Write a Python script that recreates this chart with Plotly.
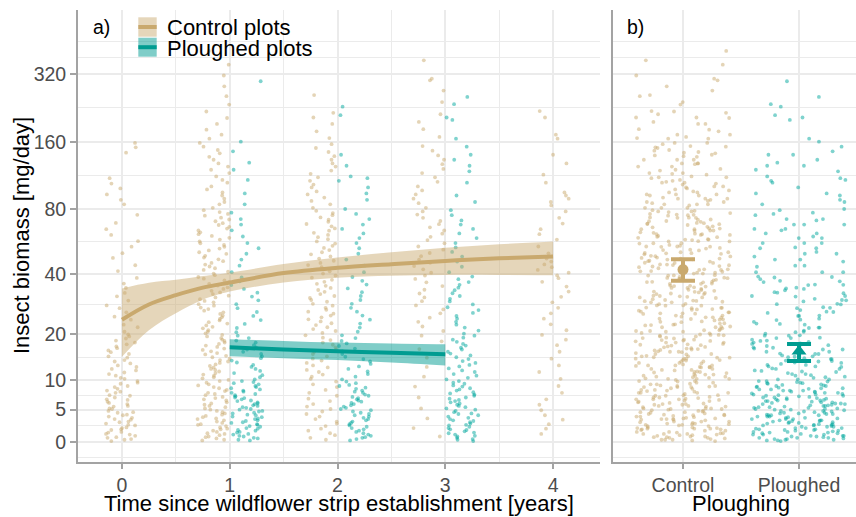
import numpy as np
import plotly.graph_objects as go

# ---------------- data (insect biomass, mg/day) ----------------
years_control = [0, 1, 2, 3, 4]
years_plough = [1, 2, 3]

control_y0 = [0.1, 0.3, 0.4, 0.6, 0.7, 0.9, 1.1, 1.2, 1.4, 1.5, 1.8, 1.9, 2.1, 2.2, 2.5, 2.6, 2.8, 3.0,
              3.1, 3.4, 3.5, 3.7, 3.9, 4.1, 4.2, 4.5, 4.6, 4.8, 5.1, 5.2, 5.5, 5.6, 5.9, 6.1, 6.3, 6.6,
              6.7, 7.0, 7.3, 7.4, 7.8, 8.0, 8.2, 8.5, 8.8, 9.0, 9.4, 9.6, 9.9, 10.3, 10.5, 10.9, 11.2,
              11.5, 11.9, 12.2, 12.6, 12.9, 13.3, 13.7, 14.0, 14.5, 14.8, 15.3, 15.7, 16.1, 16.6, 17.0,
              17.5, 17.9, 18.4, 18.9, 19.4, 19.9, 20.6, 21.8, 22.5, 23.9, 24.8, 26.1, 27.4, 28.3, 29.9,
              31.4, 32.6, 34.5, 36.2, 38.5, 41.5, 44.2, 47.8, 50.3, 53.9, 57.1, 61.0, 64.8, 69.2, 75.3,
              84, 88, 93, 99, 104, 110, 143, 151, 158]
control_y1 = [0.2, 0.3, 0.5, 0.7, 0.8, 1.0, 1.2, 1.3, 1.5, 1.7, 1.9, 2.0, 2.2, 2.4, 2.6, 2.7, 2.9, 3.1,
              3.3, 3.5, 3.6, 3.8, 4.0, 4.2, 4.4, 4.6, 4.8, 5.0, 5.2, 5.4, 5.6, 5.8, 6.0, 6.2, 6.5, 6.7,
              6.9, 7.1, 7.4, 7.6, 7.8, 8.1, 8.3, 8.6, 8.8, 9.1, 9.3, 9.6, 9.9, 10.1, 10.4, 10.6, 10.9,
              11.1, 11.4, 11.7, 12.0, 12.2, 12.5, 12.8, 13.1, 13.4, 13.7, 14.0, 14.3, 14.6, 14.9, 15.2,
              15.5, 15.9, 16.2, 16.5, 16.9, 17.2, 17.6, 17.9, 18.3, 18.6, 19.0, 19.4, 19.8, 20.2, 20.6,
              21.0, 21.5, 21.9, 22.3, 22.8, 23.2, 23.7, 24.1, 24.6, 25.1, 25.6, 26.1, 26.6, 27.1, 27.6,
              28.2, 28.7, 29.3, 29.8, 30.4, 31.0, 31.6, 32.2, 32.8, 33.4, 34.1, 34.7, 35.4, 36.1, 36.8,
              37.5, 38.2, 38.9, 39.7, 40.4, 41.2, 42.0, 42.8, 43.6, 44.5, 45.3, 46.2, 47.1, 48.0, 48.9,
              49.9, 50.8, 51.8, 52.8, 53.8, 54.9, 55.9, 57.0, 58.1, 59.2, 60.4, 61.5, 62.7, 63.9, 65.2,
              66.4, 67.7, 69.0, 70.4, 71.7, 73.1, 74.6, 76.0, 77.5, 79.0, 81, 84, 86, 89, 92, 95, 98,
              101, 105, 108, 112, 116, 120, 124, 128, 133, 137, 142, 147, 152, 158, 165, 172, 181, 192,
              204, 218, 234, 255, 282, 315, 352, 405]
control_y2 = [0.3, 0.6, 1.0, 1.3, 1.7, 2.0, 2.4, 2.8, 3.1, 3.5, 3.9, 4.3, 4.7, 5.1, 5.5, 5.9, 6.4, 6.8,
              7.3, 7.8, 8.3, 8.8, 9.3, 9.8, 10.3, 10.7, 11.1, 11.6, 12.0, 12.5, 12.9, 13.4, 13.9, 14.3,
              14.8, 15.3, 15.8, 16.3, 16.8, 17.4, 17.9, 18.5, 19.1, 19.7, 20.3, 20.8, 21.3, 21.8, 22.4,
              22.9, 23.4, 24.0, 24.6, 25.1, 25.7, 26.3, 26.9, 27.5, 28.2, 28.8, 29.5, 30.1, 30.8, 31.5,
              32.2, 33.0, 33.7, 34.5, 35.3, 36.1, 36.9, 37.7, 38.6, 39.5, 40.4, 41.4, 42.3, 43.3, 44.3,
              45.3, 46.4, 47.5, 48.6, 49.7, 50.8, 52.0, 53.2, 54.4, 55.7, 57.0, 58.3, 59.6, 61.0, 62.4,
              63.8, 65.3, 66.8, 68.4, 70.0, 71.6, 73.3, 75.0, 76.7, 78.5, 81, 84, 87, 90, 93, 96, 100,
              103, 107, 111, 115, 119, 124, 128, 133, 138, 144, 150, 156, 166, 178, 192, 205, 215, 258]
control_y3 = [0.8, 2.1, 3.6, 5.2, 7.0, 8.9, 10.7, 12.6, 14.5, 16.4, 18.2, 19.6, 20.8, 22.0, 23.3, 24.5,
              25.8, 27.0, 28.3, 29.7, 31.0, 32.4, 33.8, 35.2, 36.7, 38.1, 39.5, 40.8, 42.3, 43.8, 45.4,
              47.0, 48.7, 50.4, 52.2, 54.0, 55.9, 57.8, 59.8, 61.8, 63.9, 66.1, 68.3, 70.6, 73.0, 75.5,
              78.0, 81, 85, 89, 93, 97, 101, 106, 111, 116, 121, 127, 133, 139, 146, 153, 168, 182, 196,
              212, 240, 270, 300, 305, 368]
control_y4 = [1.2, 2.0, 2.7, 3.4, 4.1, 4.9, 5.8, 6.7, 7.8, 9.0, 10.3, 11.6, 12.9, 14.3, 15.8, 17.3, 18.6,
              19.8, 21.0, 22.6, 24.2, 25.8, 27.5, 29.3, 31.2, 33.1, 35.0, 36.9, 38.4, 39.6, 40.8, 42.0,
              43.3, 44.6, 46.0, 47.5, 50.2, 54.0, 58.1, 61.5, 64.8, 68.7, 73.0, 78.0, 83, 86, 89, 92,
              95, 105, 114, 128, 140, 165, 172, 205, 219]

plough_y1 = [0.2, 0.3, 0.5, 0.6, 0.8, 0.9, 1.1, 1.2, 1.4, 1.5, 1.7, 1.8, 2.0, 2.1, 2.3, 2.4, 2.6, 2.7,
             2.9, 3.0, 3.2, 3.3, 3.5, 3.6, 3.8, 3.9, 4.1, 4.2, 4.4, 4.5, 4.7, 4.8, 5.0, 5.1, 5.3, 5.4,
             5.6, 5.7, 5.9, 6.0, 6.2, 6.4, 6.5, 6.7, 6.9, 7.0, 7.2, 7.4, 7.6, 7.8, 8.0, 8.2, 8.4, 8.6,
             8.8, 9.0, 9.3, 9.5, 9.7, 9.9, 10.2, 10.6, 11.0, 11.4, 11.8, 12.2, 12.6, 13.0, 13.5, 13.9,
             14.4, 14.8, 15.3, 15.8, 16.3, 16.8, 17.3, 17.9, 18.4, 19.0, 19.6, 20.5, 21.6, 22.7, 23.8,
             25.0, 26.2, 27.4, 28.7, 30.0, 31.3, 32.7, 34.1, 35.6, 37.1, 38.7, 41, 44, 47, 50, 53, 56,
             60, 64, 68, 72, 77, 84, 94, 108, 120, 129, 145, 160, 297]
plough_y2 = [0.2, 0.4, 0.6, 0.7, 0.9, 1.1, 1.3, 1.5, 1.7, 1.9, 2.1, 2.3, 2.5, 2.7, 2.9, 3.1, 3.3, 3.5,
             3.7, 3.9, 4.1, 4.3, 4.5, 4.7, 4.9, 5.1, 5.3, 5.5, 5.7, 5.9, 6.1, 6.3, 6.5, 6.7, 6.9, 7.1,
             7.3, 7.5, 7.8, 8.0, 8.2, 8.5, 8.7, 9.0, 9.2, 9.5, 9.8, 10.2, 10.7, 11.2, 11.7, 12.2, 12.7,
             13.2, 13.7, 14.2, 14.7, 15.3, 15.9, 16.5, 17.1, 17.7, 18.3, 19.0, 19.7, 20.6, 21.7, 22.8,
             23.9, 25.1, 26.3, 27.5, 28.8, 30.1, 31.5, 32.9, 34.3, 35.8, 37.3, 38.9, 41, 44, 47, 50,
             53, 56, 59, 62, 65, 68, 72, 76, 80, 88, 94, 100, 107, 110, 112, 125, 140, 210, 229]
plough_y3 = [0.1, 0.3, 0.4, 0.6, 0.8, 0.9, 1.1, 1.3, 1.4, 1.6, 1.8, 1.9, 2.1, 2.3, 2.5, 2.6, 2.8, 3.0,
             3.2, 3.3, 3.5, 3.7, 3.9, 4.1, 4.3, 4.4, 4.6, 4.8, 5.0, 5.2, 5.4, 5.6, 5.8, 6.0, 6.2, 6.4,
             6.6, 6.8, 7.0, 7.3, 7.5, 7.7, 7.9, 8.2, 8.4, 8.6, 8.9, 9.1, 9.4, 9.6, 9.9, 10.2, 10.5,
             10.9, 11.2, 11.6, 11.9, 12.3, 12.7, 13.0, 13.4, 13.8, 14.2, 14.6, 15.0, 15.4, 15.8, 16.3,
             16.7, 17.2, 17.6, 18.1, 18.6, 19.1, 19.6, 20.1, 20.9, 21.7, 22.5, 23.3, 24.2, 25.0, 25.9,
             26.8, 27.7, 28.6, 29.6, 30.5, 31.5, 32.5, 33.6, 34.6, 35.7, 36.8, 38.0, 39.1, 41, 43.5,
             46, 48.5, 51, 53.5, 56, 59, 62, 65, 68, 71, 75, 79, 86, 92, 105, 118, 125, 133, 140, 152,
             165, 200, 205, 235, 253]

# fitted model (panel a)
fit_x_control = [0, 0.25, 0.5, 0.75, 1, 1.5, 2, 2.5, 3, 3.5, 4]
fit_control = [23.9, 28.6, 31.8, 34.6, 36.6, 40.6, 43.0, 44.7, 46.3, 47.6, 48.6]
fit_control_lo = [14.7, 21.0, 25.8, 30.2, 33.1, 36.6, 38.6, 39.4, 39.8, 39.8, 39.7]
fit_control_hi = [34.3, 36.5, 37.7, 39.3, 40.8, 44.8, 48.0, 50.8, 53.3, 55.3, 56.9]
fit_x_plough = [1, 1.5, 2, 2.5, 3]
fit_plough = [16.8, 16.3, 15.9, 15.55, 15.25]
fit_plough_lo = [14.8, 14.4, 14.0, 13.5, 12.9]
fit_plough_hi = [18.7, 18.3, 17.9, 17.7, 17.5]

# overall estimates (panel b)
est_groups = ["Control", "Ploughed"]
est_mean = [42.2, 15.9]
est_lo = [37.3, 13.8]
est_hi = [47.1, 17.6]

y_ticks = [0, 5, 10, 20, 40, 80, 160, 320]
x_ticks = [0, 1, 2, 3, 4]

# ---------------- styling ----------------
C_TAN = "#C9A96E"
C_TEAL = "#009C91"
TAN_BAND = "rgba(201,169,110,0.48)"
TEAL_BAND = "rgba(0,156,145,0.5)"
TAN_PT = "rgba(201,169,110,0.5)"
TEAL_PT = "rgba(0,168,158,0.5)"
GRID = "#EBEBEB"
AXIS = "#A3A3A3"
FONT = "Liberation Sans"
SIGMA2 = 15.0  # pseudo-log transform: asinh(y / (2*sigma)), sigma = 7.5
PT_SIZE = 3.8


def tr(v):
    return np.arcsinh(np.asarray(v, dtype=float) / SIGMA2)


def spread(n, half, seed=0):
    # deterministic jitter offsets from an integer hash of the point index
    h = (np.arange(n, dtype=np.uint64) + np.uint64(seed * 7919 + 1)) * np.uint64(2654435761)
    h &= np.uint64(0xFFFFFFFF)
    h ^= h >> np.uint64(15)
    h = (h * np.uint64(2246822519)) & np.uint64(0xFFFFFFFF)
    h ^= h >> np.uint64(13)
    h = (h * np.uint64(3266489917)) & np.uint64(0xFFFFFFFF)
    h ^= h >> np.uint64(16)
    u = h.astype(float) / 4294967296.0
    return (u - 0.5) * 2.0 * half


fig = go.Figure()

control_groups = [control_y0, control_y1, control_y2, control_y3, control_y4]
plough_groups = [plough_y1, plough_y2, plough_y3]
JIT = 0.15
DODGE = 0.15

for k, (yr, vals) in enumerate(zip(years_control, control_groups)):
    centre = yr - DODGE if yr in years_plough else yr
    fig.add_trace(go.Scatter(x=centre + spread(len(vals), JIT, 11 + k), y=tr(vals),
                             mode="markers", marker=dict(size=PT_SIZE, color=TAN_PT),
                             showlegend=False, hoverinfo="skip", xaxis="x", yaxis="y"))
for k, (yr, vals) in enumerate(zip(years_plough, plough_groups)):
    centre = yr + DODGE + 0.01
    fig.add_trace(go.Scatter(x=centre + spread(len(vals), JIT, 31 + k), y=tr(vals),
                             mode="markers", marker=dict(size=PT_SIZE, color=TEAL_PT),
                             showlegend=False, hoverinfo="skip", xaxis="x", yaxis="y"))

# ribbons + fitted lines
for xs, lo, hi, mid, band, col in [
        (fit_x_control, fit_control_lo, fit_control_hi, fit_control, TAN_BAND, C_TAN),
        (fit_x_plough, fit_plough_lo, fit_plough_hi, fit_plough, TEAL_BAND, C_TEAL)]:
    fig.add_trace(go.Scatter(x=xs, y=tr(lo), mode="lines", line=dict(width=0, shape="spline"),
                             showlegend=False, hoverinfo="skip", xaxis="x", yaxis="y"))
    fig.add_trace(go.Scatter(x=xs, y=tr(hi), mode="lines", line=dict(width=0, shape="spline"),
                             fill="tonexty", fillcolor=band,
                             showlegend=False, hoverinfo="skip", xaxis="x", yaxis="y"))
    fig.add_trace(go.Scatter(x=xs, y=tr(mid), mode="lines", line=dict(width=4, color=col, shape="spline"),
                             showlegend=False, hoverinfo="skip", xaxis="x", yaxis="y"))

# panel b: pooled observations
all_control = sum(control_groups, [])
all_plough = sum(plough_groups, [])
fig.add_trace(go.Scatter(x=1 + spread(len(all_control), 0.41, 57), y=tr(all_control),
                         mode="markers", marker=dict(size=PT_SIZE, color=TAN_PT),
                         showlegend=False, hoverinfo="skip", xaxis="x2", yaxis="y2"))
fig.add_trace(go.Scatter(x=2 + spread(len(all_plough), 0.41, 73), y=tr(all_plough),
                         mode="markers", marker=dict(size=PT_SIZE, color=TEAL_PT),
                         showlegend=False, hoverinfo="skip", xaxis="x2", yaxis="y2"))

# estimates with CI
for i, (sym, col) in enumerate([("circle", C_TAN), ("triangle-up", C_TEAL)]):
    m = float(tr(est_mean[i]))
    fig.add_trace(go.Scatter(
        x=[i + 1], y=[m], mode="markers",
        marker=dict(size=11 if sym == "circle" else 13, color=col, symbol=sym),
        error_y=dict(type="data", symmetric=False,
                     array=[float(tr(est_hi[i])) - m], arrayminus=[m - float(tr(est_lo[i]))],
                     color=col, thickness=4, width=12),
        showlegend=False, hoverinfo="skip", xaxis="x2", yaxis="y2"))

# ---------------- axes ----------------
ymaj = tr(y_ticks)
bd = ymaj[1] - ymaj[0]
ext = np.concatenate([[ymaj[0] - bd], ymaj, [ymaj[-1] + bd]])
yminor = list((ext[:-1] + ext[1:]) / 2) + [ext[-1]]

tickfont = dict(family=FONT, size=19.5, color="#4D4D4D")
titlefont = dict(family=FONT, size=22, color="black")
common = dict(showgrid=True, gridcolor=GRID, gridwidth=1.7, zeroline=False,
              showline=True, linecolor=AXIS, linewidth=1.8, tickfont=tickfont,
              automargin=False)

yrange = [-0.207, 4.407]
fig.update_layout(
    width=856, height=517, paper_bgcolor="white", plot_bgcolor="white",
    margin=dict(l=78, r=0, t=10, b=55), showlegend=False,
    xaxis=dict(domain=[0, 0.671], range=[-0.408, 4.436], tickvals=x_ticks,
               ticks="outside", ticklen=5, tickwidth=1.5, tickcolor=AXIS,
               minor=dict(tickvals=[0.5, 1.5, 2.5, 3.5], showgrid=True, gridcolor=GRID, gridwidth=1.0),
               **common),
    yaxis=dict(domain=[0, 1], range=yrange, tickvals=list(ymaj), ticktext=[str(t) for t in y_ticks],
               ticks="outside", ticklen=6, tickwidth=1.5, tickcolor=AXIS,
               minor=dict(tickvals=yminor, showgrid=True, gridcolor=GRID, gridwidth=1.0),
               **common),
    xaxis2=dict(domain=[0.6877, 1], range=[0.397, 2.491], tickvals=[1, 2], ticktext=est_groups,
                ticks="outside", ticklen=5, tickwidth=1.5, tickcolor=AXIS, anchor="y2",
                **common),
    yaxis2=dict(domain=[0, 1], range=yrange, tickvals=list(ymaj), showticklabels=False, ticks="",
                anchor="x2",
                minor=dict(tickvals=yminor, showgrid=True, gridcolor=GRID, gridwidth=1.0),
                **common),
)

# ---------------- legend (drawn manually), axis titles & panel tags ----------------
def px(x):
    return (x - 78) / 778.0


def py(y):
    return (462 - y) / 452.0


shapes = []
for (y0, y1), band, col in [((17.3, 36.7), TAN_BAND, C_TAN), ((37.7, 56.7), TEAL_BAND, C_TEAL)]:
    shapes.append(dict(type="rect", xref="paper", yref="paper", x0=px(138.3), x1=px(156.7),
                       y0=py(y1), y1=py(y0), fillcolor=band, line=dict(width=0), layer="above"))
    ym = py((y0 + y1) / 2)
    shapes.append(dict(type="line", xref="paper", yref="paper", x0=px(138.3), x1=px(156.7),
                       y0=ym, y1=ym, line=dict(color=col, width=4), layer="above"))
fig.update_layout(shapes=shapes)


def note(text, x, y, font, **kw):
    fig.add_annotation(text=text, x=px(x), y=py(y), xref="paper", yref="paper",
                       showarrow=False, font=font, **kw)


legfont = dict(family=FONT, size=22, color="black")
note("Control plots", 165, 27.5, legfont, xanchor="left", yanchor="middle")
note("Ploughed plots", 165, 48, legfont, xanchor="left", yanchor="middle")
tagfont = dict(family=FONT, size=19.5, color="black")
note("a)", 101.5, 27, tagfont, xanchor="center", yanchor="middle")
note("b)", 635.5, 27, tagfont, xanchor="center", yanchor="middle")
note("Time since wildflower strip establishment [years]", 339, 503, titlefont,
     xanchor="center", yanchor="middle")
note("Ploughing", 741, 503, titlefont, xanchor="center", yanchor="middle")
note("Insect biomass [mg/day]", 21, 236, titlefont, xanchor="center", yanchor="middle",
     textangle=-90)

fig.write_html("out.html", config={"displayModeBar": False},
               post_script="document.body.style.margin='0px';")
